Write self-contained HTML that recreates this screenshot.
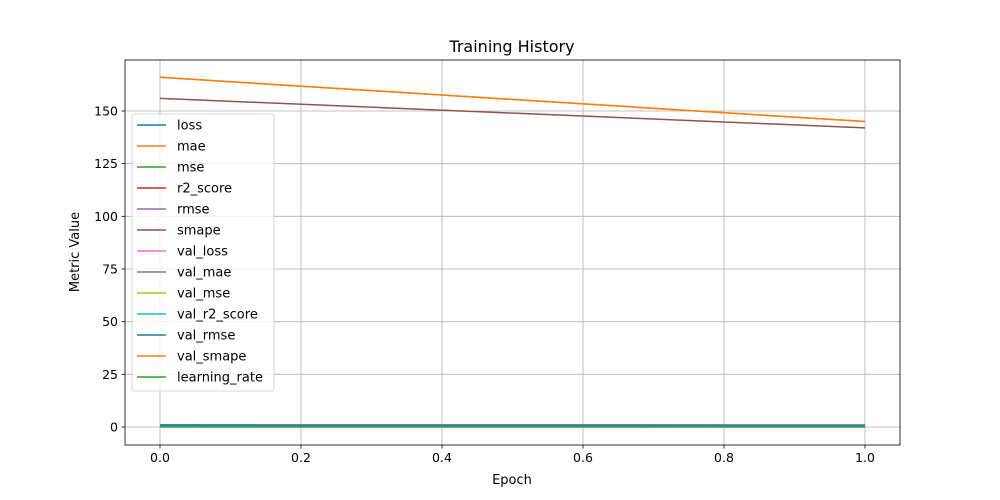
<!DOCTYPE html>
<html><head><meta charset="utf-8"><style>body{margin:0;background:#fff}svg{display:block;font-family:"DejaVu Sans","Liberation Sans",sans-serif}</style></head>
<body>
<svg id="chart" width="1000" height="500"></svg>
<script>
const epochs=[0,1];
const seriesNames=["loss","mae","mse","r2_score","rmse","smape","val_loss","val_mae","val_mse","val_r2_score","val_rmse","val_smape","learning_rate"];
const loss=[0.9,0.85];
const mae=[166,145];
const mse=[0.9,0.85];
const r2_score=[0.1,0.15];
const rmse=[0.95,0.92];
const smape=[156,142];
const val_loss=[0.85,0.8];
const val_mae=[0.8,0.75];
const val_mse=[0.85,0.8];
const val_r2_score=[0.15,0.2];
const val_rmse=[0.92,0.9];
const val_smape=[166,145];
const learning_rate=[0.001,0.001];
const seriesValues=[loss,mae,mse,r2_score,rmse,smape,val_loss,val_mae,val_mse,val_r2_score,val_rmse,val_smape,learning_rate];
const xTicks=[0,0.2,0.4,0.6,0.8,1.0];
const xTickLabels=["0.0","0.2","0.4","0.6","0.8","1.0"];
const yTicks=[0,25,50,75,100,125,150];
const colors=["#1f77b4","#ff7f0e","#2ca02c","#d62728","#9467bd","#8c564b","#e377c2","#7f7f7f","#bcbd22","#17becf","#1f77b4","#ff7f0e","#2ca02c"];
const NS="http://www.w3.org/2000/svg";
const svg=document.getElementById('chart');
const L=125,R=900,T=60,B=445;
const xs=v=>160+v*705;
const ys=v=>427-v*316/150;
function mk(tag,attrs,parent){const e=document.createElementNS(NS,tag);for(const k in attrs)e.setAttribute(k,attrs[k]);(parent||svg).appendChild(e);return e;}
xTicks.forEach((t,i)=>{
 const g=mk('line',{x1:xs(t),x2:xs(t),y1:T,y2:B,stroke:'#b0b0b0','stroke-width':0.8});
 
 
 mk('line',{x1:xs(t),x2:xs(t),y1:B,y2:B+3.5,stroke:'#000','stroke-width':0.8});
 const tx=mk('text',{x:xs(t),y:B+17,'text-anchor':'middle','font-size':12.5});tx.textContent=xTickLabels[i];
 
 
});
yTicks.forEach(t=>{
 const g=mk('line',{x1:L,x2:R,y1:ys(t),y2:ys(t),stroke:'#b0b0b0','stroke-width':0.8});
 
 
 mk('line',{x1:L-3.5,x2:L,y1:ys(t),y2:ys(t),stroke:'#000','stroke-width':0.8});
 const tx=mk('text',{x:L-7,y:ys(t)+4.5,'text-anchor':'end','font-size':12.5});tx.textContent=t;
 
 
});
seriesValues.forEach((vals,i)=>{
 const p=mk('polyline',{points:epochs.map((e,j)=>xs(e)+','+ys(vals[j])).join(' '),fill:'none',stroke:colors[i],'stroke-width':1.5});
 
 
});
const frame=mk('rect',{x:L,y:T,width:R-L,height:B-T,fill:'none',stroke:'#000','stroke-width':0.8});


const title=mk('text',{x:512,y:52,'text-anchor':'middle','font-size':16});title.textContent='Training History';


const xl=mk('text',{x:512,y:484,'text-anchor':'middle','font-size':13});xl.textContent='Epoch';


const yl=mk('text',{x:0,y:0,'text-anchor':'middle','font-size':13,transform:'translate(79,252) rotate(-90)'});yl.textContent='Metric Value';


const lg=mk('g',{});


mk('rect',{x:132,y:114,width:142,height:277,rx:2,fill:'#fff','fill-opacity':0.8,stroke:'#ccc','stroke-width':0.8},lg);
seriesNames.forEach((n,i)=>{
 const y=125+i*21;
 const e=mk('g',{},lg);
 
 
 mk('line',{x1:137,x2:166,y1:y,y2:y,stroke:colors[i],'stroke-width':1.5},e);
 const t=mk('text',{x:177,y:y+4.5,'font-size':13},e);t.textContent=n;
});
</script>
</body></html>
